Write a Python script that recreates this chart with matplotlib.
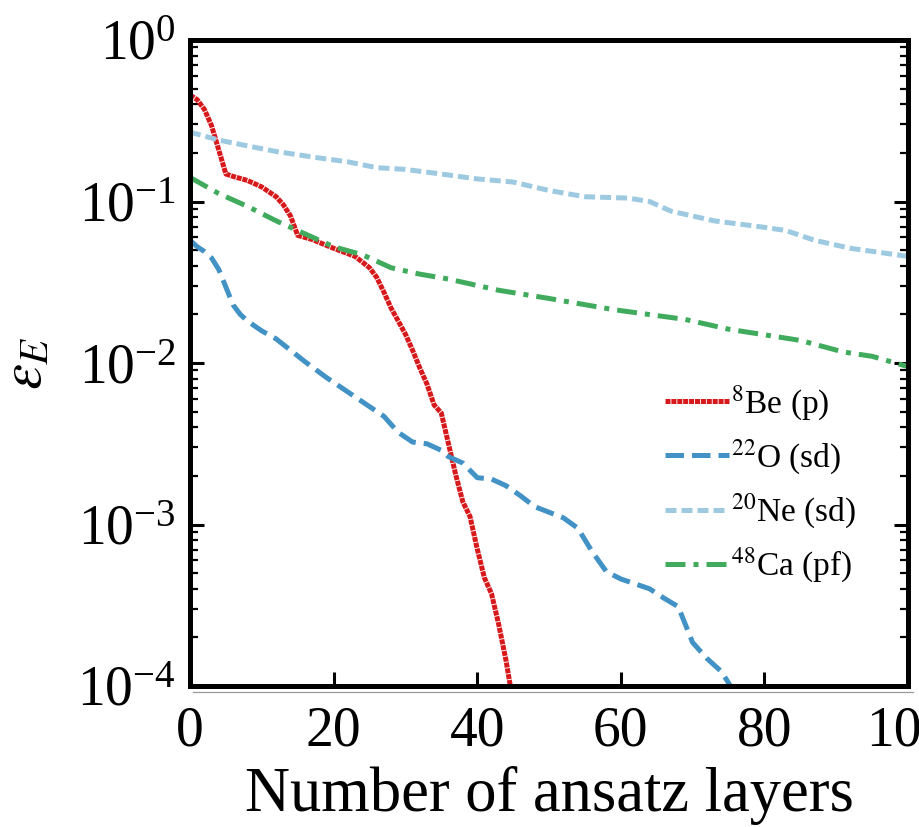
import matplotlib
matplotlib.use("Agg")
import matplotlib.pyplot as plt
from matplotlib.lines import Line2D
from matplotlib.ticker import LogLocator, NullFormatter, LogFormatterMathtext

plt.rcParams["font.family"] = ["Liberation Serif", "DejaVu Serif"]
plt.rcParams["mathtext.fontset"] = "stix"

# Energy error vs. number of ansatz layers
be8_layers = [0, 1, 2, 3, 4, 5, 6, 8, 10, 12, 13, 14, 15, 17, 20, 23, 25, 26, 27, 28,
              29, 30, 31, 32, 33, 34, 35, 36, 37, 38, 39, 40, 41, 42, 43, 44, 45]
be8_err = [0.457, 0.427, 0.372, 0.295, 0.209, 0.148, 0.143, 0.135, 0.123, 0.107,
           0.0955, 0.0813, 0.0617, 0.0582, 0.0513, 0.0457, 0.0389, 0.0339, 0.0275,
           0.0219, 0.0182, 0.0151, 0.0120, 0.00933, 0.00741, 0.00550, 0.00490,
           0.00316, 0.00204, 0.00138, 0.00112, 7.08e-4, 4.68e-4, 3.72e-4, 2.40e-4,
           1.45e-4, 7.9e-5]

o22_layers = [0, 1, 2, 3, 4, 5, 6, 7, 8, 10, 12, 14, 16, 19, 22, 25, 27, 29, 31, 33,
              35, 36, 38, 40, 42, 44, 46, 48, 52, 54, 56, 58, 60, 64, 66, 68, 69, 70,
              72, 74, 76]
o22_err = [0.0575, 0.0525, 0.049, 0.0447, 0.038, 0.0295, 0.0229, 0.020, 0.0182,
           0.0158, 0.0141, 0.0120, 0.0102, 0.00813, 0.00661, 0.00537, 0.00468,
           0.00372, 0.00324, 0.00316, 0.00288, 0.00263, 0.0024, 0.00195, 0.00191,
           0.00174, 0.00151, 0.00129, 0.0011, 9.5e-4, 6.8e-4, 5.1e-4, 4.6e-4,
           4.0e-4, 3.5e-4, 3.1e-4, 2.4e-4, 1.86e-4, 1.48e-4, 1.23e-4, 8.9e-5]

ne20_layers = [0, 4, 8, 12, 18, 22, 26, 30, 35, 40, 45, 50, 55, 61, 64, 67, 73, 80,
               83, 87, 92, 100]
ne20_err = [0.269, 0.240, 0.221, 0.204, 0.186, 0.176, 0.162, 0.158, 0.148, 0.138,
            0.132, 0.117, 0.107, 0.105, 0.100, 0.0871, 0.0759, 0.0692, 0.0661,
            0.0575, 0.0513, 0.0457]

ca48_layers = [0, 4, 8, 12, 16, 20, 24, 26, 28, 32, 36, 43, 50, 59, 69, 75, 85, 91,
               95, 100]
ca48_err = [0.141, 0.112, 0.0933, 0.0759, 0.0631, 0.0525, 0.0468, 0.0427, 0.0389,
            0.0355, 0.0331, 0.0282, 0.0251, 0.0214, 0.0186, 0.0162, 0.0138, 0.0117,
            0.011, 0.0095]

labels = [r"$^{8}$Be (p)", r"$^{22}$O (sd)", r"$^{20}$Ne (sd)", r"$^{48}$Ca (pf)"]
x_ticks = [0, 20, 40, 60, 80, 100]

fig = plt.figure(figsize=(9.2, 8.27), dpi=100)
ax = fig.add_axes([190 / 920, 1 - 686 / 827, 718 / 920, 646 / 827])

lw = 3.6
ax.plot(be8_layers, be8_err, color="#d7191c", lw=lw, dashes=(1.0, 0.18),
        dash_capstyle="butt", label=labels[0])
ax.plot(o22_layers, o22_err, color="#4292c6", lw=lw, dashes=(3.7, 1.6),
        label=labels[1])
ax.plot(ne20_layers, ne20_err, color="#9ecae1", lw=lw, dashes=(2.2, 1.0),
        label=labels[2])
ax.plot(ca48_layers, ca48_err, color="#41ab5d", lw=lw, dashes=(4.0, 1.6, 1.0, 1.6),
        label=labels[3])

ax.set_yscale("log")
ax.set_ylim(1e-4, 1)
ax.set_xlim(0, 100)
ax.set_xticks(x_ticks)
ax.yaxis.set_major_locator(LogLocator(base=10, numticks=10))
ax.yaxis.set_minor_locator(LogLocator(base=10, subs=range(2, 10), numticks=20))
ax.yaxis.set_major_formatter(LogFormatterMathtext())
ax.yaxis.set_minor_formatter(NullFormatter())

for side in ax.spines.values():
    side.set_linewidth(3.6)

ax.tick_params(axis="y", which="major", direction="in", length=10, width=2.2,
               left=True, right=True, labelsize=40, pad=10)
ax.tick_params(axis="y", which="minor", direction="in", length=6, width=1.6,
               left=True, right=True)
ax.tick_params(axis="x", which="major", direction="in", length=10, width=2.2,
               bottom=True, top=False, labelsize=40, pad=14)

ax.set_xlabel("Number of ansatz layers", fontsize=45, labelpad=6)
ax.set_ylabel(r"$\varepsilon_E$", fontsize=42)
ax.yaxis.set_label_coords(-0.19, 0.50)

leg = ax.legend(loc="center left", bbox_to_anchor=(0.662, 0.312), frameon=False,
                fontsize=24, handlelength=1.9, handletextpad=0.08,
                labelspacing=0.45, borderpad=0, borderaxespad=0)

# thin rule under the frame
fig.add_artist(Line2D([193 / 920, 913 / 920], [1 - 692 / 827, 1 - 692 / 827],
                      color="#9a9a9a", lw=0.9, transform=fig.transFigure))

fig.savefig("out.png", dpi=100)
